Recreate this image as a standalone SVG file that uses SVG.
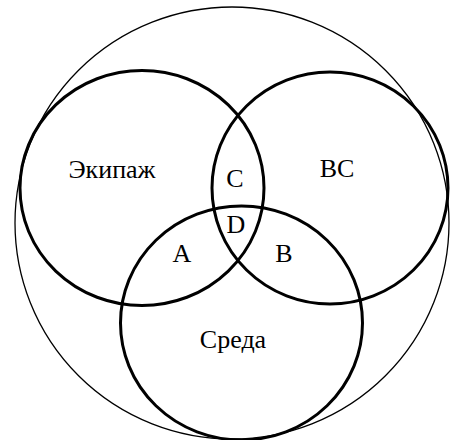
<svg xmlns="http://www.w3.org/2000/svg" width="450" height="440" viewBox="0 0 450 440">
<style>
.set{fill:none;stroke:#000;stroke-width:3}
.outer{fill:none;stroke:#000;stroke-width:1.3}
text{font-family:"Liberation Serif","Times New Roman",serif;font-size:26px;fill:#000;text-anchor:middle}
</style>
<rect width="450" height="440" fill="#fff"/>
<g id="universe"><ellipse class="outer" cx="232" cy="223" rx="217" ry="216"/></g>
<g id="crew"><ellipse class="set" cx="142" cy="188" rx="122" ry="117.5"/><text x="112" y="178">Экипаж</text></g>
<g id="aircraft"><ellipse class="set" cx="330" cy="188" rx="118" ry="116"/><text x="337" y="177">ВС</text></g>
<g id="environment"><ellipse class="set" cx="241.5" cy="323" rx="121" ry="117"/><text x="233" y="348">Среда</text></g>
<g id="regions">
<text x="235" y="187">С</text>
<text x="236" y="233">D</text>
<text x="182" y="262">А</text>
<text x="284" y="262">В</text>
</g>
</svg>
